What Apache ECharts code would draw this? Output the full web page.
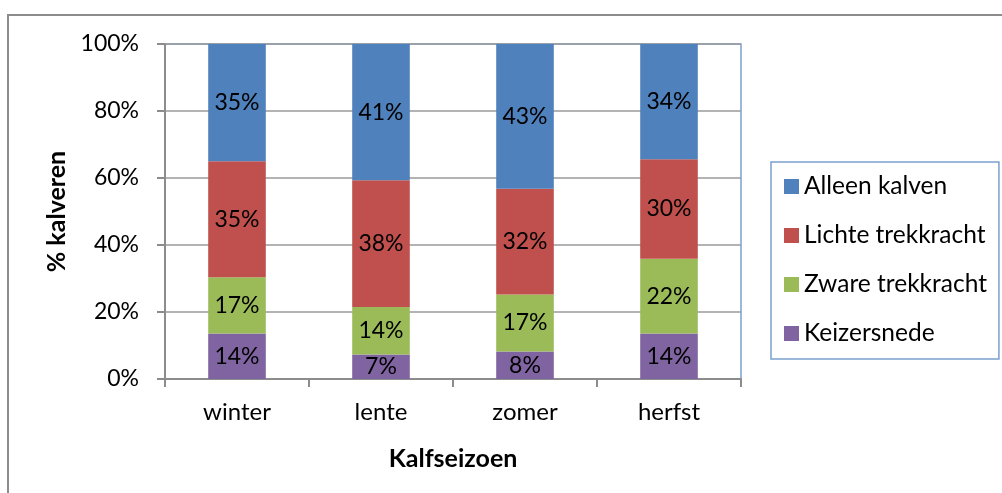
<!DOCTYPE html>
<html>
<head>
<meta charset="utf-8">
<script src="https://cdn.jsdelivr.net/npm/echarts@6/dist/echarts.min.js"></script>
<style>
html,body{margin:0;padding:0;background:#fff;}
#chart{width:1002px;height:493px;}
</style>
</head>
<body>
<div id="chart"></div>
<script>
const categories = ['winter', 'lente', 'zomer', 'herfst'];
const keizersnede = [13.6, 7.3, 8.2, 13.6];
const zwareTrekkracht = [16.8, 14.2, 17.0, 22.3];
const lichteTrekkracht = [34.6, 37.8, 31.6, 29.7];
const alleenKalven = [35.0, 40.7, 43.2, 34.4];
const yTicks = [0, 20, 40, 60, 80, 100];

const FONT = 'Lato';
const colors = {
  'Alleen kalven': '#4F81BD',
  'Lichte trekkracht': '#C0504D',
  'Zware trekkracht': '#9BBB59',
  'Keizersnede': '#8064A2'
};

function mkSeries(name, data) {
  return {
    name: name,
    type: 'bar',
    stack: 'total',
    barWidth: '40%',
    data: data,
    itemStyle: { color: colors[name] },
    label: {
      show: true,
      position: 'inside',
      color: '#000',
      fontFamily: FONT,
      fontSize: 23,
      formatter: p => Math.round(p.value) + '%'
    },
    emphasis: { disabled: true }
  };
}

const chart = echarts.init(document.getElementById('chart'));
chart.setOption({
  animation: false,
  backgroundColor: '#fff',
  textStyle: { fontFamily: FONT },
  graphic: [{
    type: 'polyline',
    shape: { points: [[8, 493], [8, 15], [1002, 15]] },
    style: { stroke: '#8c8c8c', lineWidth: 2, fill: null },
    silent: true
  }],
  grid: {
    left: 165, top: 44, right: 261, bottom: 114,
    show: true, borderColor: '#7BA0CD', borderWidth: 1.5, backgroundColor: 'transparent'
  },
  legend: {
    orient: 'vertical',
    left: 771, top: 162,
    data: ['Alleen kalven', 'Lichte trekkracht', 'Zware trekkracht', 'Keizersnede'],
    icon: 'rect',
    itemWidth: 15, itemHeight: 15,
    itemGap: 24,
    padding: [12, 12, 13, 13],
    borderColor: '#7BA0CD', borderWidth: 1.5,
    textStyle: { fontFamily: FONT, fontSize: 24.5, color: '#000', lineHeight: 24 }
  },
  xAxis: {
    type: 'category',
    data: categories,
    name: 'Kalfseizoen',
    nameLocation: 'middle',
    nameGap: 67,
    nameTextStyle: { fontFamily: FONT, fontSize: 25, fontWeight: 'bold', color: '#000' },
    axisLine: { lineStyle: { color: '#8c8c8c', width: 2 } },
    axisTick: { show: true, length: 8, lineStyle: { color: '#8c8c8c', width: 2 } },
    axisLabel: { fontFamily: FONT, fontSize: 24, color: '#000', margin: 21 }
  },
  yAxis: {
    type: 'value',
    min: 0, max: 100, interval: 20,
    name: '% kalveren',
    nameLocation: 'middle',
    nameGap: 95,
    nameRotate: 90,
    nameTextStyle: { fontFamily: FONT, fontSize: 25, fontWeight: 'bold', color: '#000' },
    axisLine: { show: true, lineStyle: { color: '#8c8c8c', width: 2 } },
    axisTick: { show: true, length: 8, lineStyle: { color: '#8c8c8c', width: 2 } },
    splitLine: { show: true, lineStyle: { color: '#9a9a9a', width: 1.5 } },
    axisLabel: {
      fontFamily: FONT, fontSize: 23, color: '#000', margin: 26,
      formatter: v => (yTicks.indexOf(v) >= 0 ? v + '%' : '')
    }
  },
  series: [
    mkSeries('Keizersnede', keizersnede),
    mkSeries('Zware trekkracht', zwareTrekkracht),
    mkSeries('Lichte trekkracht', lichteTrekkracht),
    mkSeries('Alleen kalven', alleenKalven)
  ]
});
</script>
</body>
</html>
